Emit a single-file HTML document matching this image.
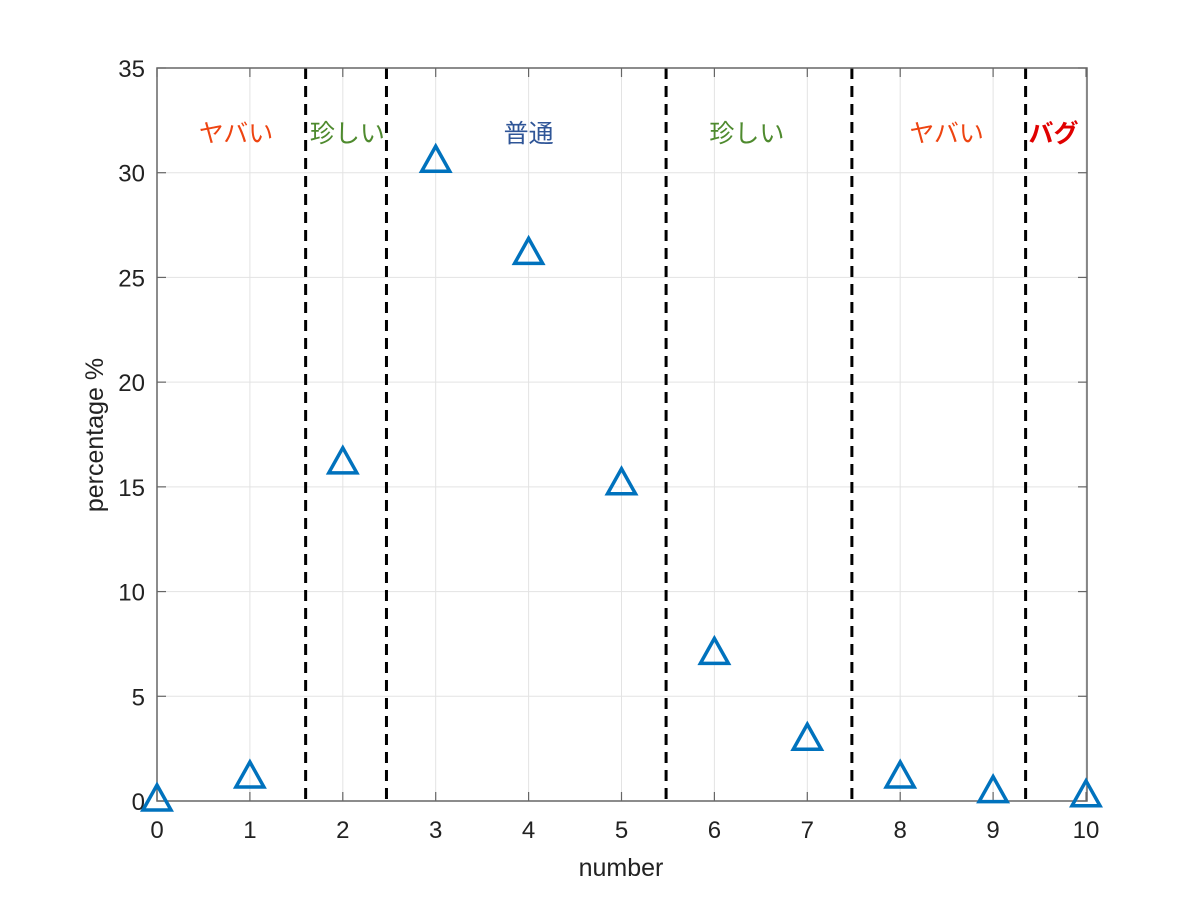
<!DOCTYPE html>
<html><head><meta charset="utf-8"><style>
body{margin:0;background:#fff}
svg{display:block;font-family:"Liberation Sans","Noto Sans CJK JP",sans-serif}
</style></head><body>
<svg id="chart" width="1200" height="900" xmlns="http://www.w3.org/2000/svg">
<g id="grid"></g>
<g id="bounds"></g>
<g id="labels"></g>
<rect x="157" y="68" width="930" height="733" fill="none" stroke="#666" stroke-width="1.5"/>
<g id="ticks"></g>
<g id="marks"></g>
<text x="621" y="876" font-size="25" text-anchor="middle" fill="#222">number</text>
<text transform="translate(103,435) rotate(-90)" font-size="25" text-anchor="middle" fill="#222">percentage %</text>
</svg>
<script>
const categories=[0,1,2,3,4,5,6,7,8,9,10];
const values=[0,1.1,16.1,30.5,26.1,15.1,7.0,2.9,1.1,0.4,0.2];
const xTicks=[0,1,2,3,4,5,6,7,8,9,10];
const yTicks=[0,5,10,15,20,25,30,35];
const boundaries=[1.6,2.47,5.48,7.48,9.35];
const regionNames=["ヤバい","珍しい","普通","珍しい","ヤバい","バグ"];
const regionPos=[0.85,2.05,4.0,6.35,8.5,9.65];
const regionColors=["#ee4411","#4e8a2e","#2f5597","#4e8a2e","#ee4411","#e00000"];
const NS="http://www.w3.org/2000/svg";
const X=v=>157+v*92.9, Y=v=>801-v*(733/35);
function mk(t,a,p){const e=document.createElementNS(NS,t);for(const k in a)e.setAttribute(k,a[k]);p.appendChild(e);return e;}
const grid=document.getElementById('grid'),ticks=document.getElementById('ticks'),marks=document.getElementById('marks'),bounds=document.getElementById('bounds'),labels=document.getElementById('labels');
xTicks.forEach(v=>{
 const g=mk('line',{x1:X(v),x2:X(v),y1:68,y2:801,stroke:'#e3e3e3','stroke-width':1},grid);
 
 
 const t=mk('line',{x1:X(v),x2:X(v),y1:801,y2:792,stroke:'#666','stroke-width':1.2},ticks);
 
 
 const t2=mk('line',{x1:X(v),x2:X(v),y1:68,y2:77,stroke:'#666','stroke-width':1.2},ticks);
 
 
 const l=mk('text',{x:X(v),y:838,'font-size':24,'text-anchor':'middle',fill:'#222'},ticks);
 
 
 l.textContent=v;
});
yTicks.forEach(v=>{
 const g=mk('line',{x1:157,x2:1087,y1:Y(v),y2:Y(v),stroke:'#e3e3e3','stroke-width':1},grid);
 
 
 const t=mk('line',{x1:157,x2:166,y1:Y(v),y2:Y(v),stroke:'#666','stroke-width':1.2},ticks);
 
 
 const t2=mk('line',{x1:1078,x2:1087,y1:Y(v),y2:Y(v),stroke:'#666','stroke-width':1.2},ticks);
 
 
 const l=mk('text',{x:145,y:Y(v)+9,'font-size':24,'text-anchor':'end',fill:'#222'},ticks);
 
 
 l.textContent=v;
});
boundaries.forEach(b=>{
 const l=mk('line',{x1:X(b),x2:X(b),y1:68,y2:801,stroke:'#000','stroke-width':3,'stroke-dasharray':'11 7'},bounds);
 
 
});
regionNames.forEach((n,i)=>{
 const t=mk('text',{x:X(regionPos[i]),y:142,'font-size':25,'text-anchor':'middle',fill:regionColors[i],'font-weight':i===5?'bold':'normal'},labels);
 
 
 t.textContent=n;
});
categories.forEach((c,i)=>{
 const cx=X(c),cy=Y(values[i]);
 const p=mk('polygon',{points:`${cx},${cy-16} ${cx-14},${cy+9} ${cx+14},${cy+9}`,fill:'none',stroke:'#0072bd','stroke-width':3.5,'stroke-linejoin':'miter'},marks);
 
 
});
</script>
</body></html>
